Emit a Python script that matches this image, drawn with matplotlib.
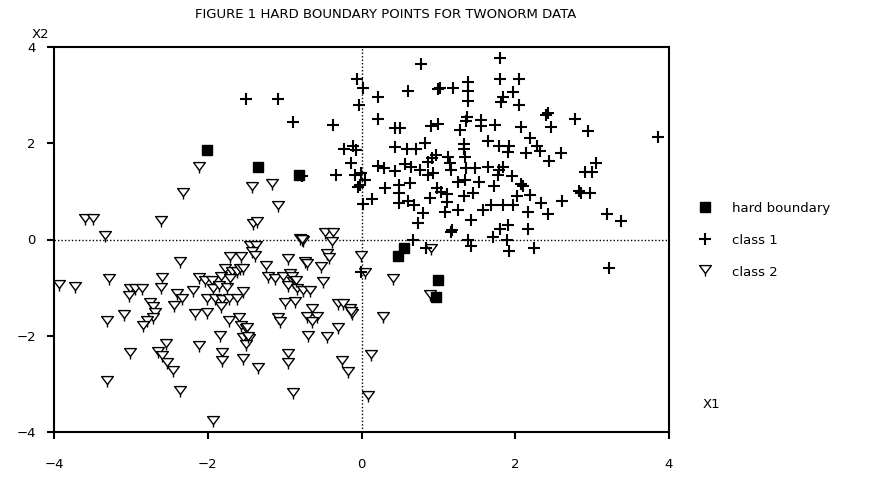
import matplotlib
matplotlib.use("Agg")
import matplotlib.pyplot as plt
from matplotlib.path import Path
from matplotlib.lines import Line2D

# twonorm data
class1_x = [1.80, 0.77, -0.06, 0.02, 1.80, 2.05, 1.39, 1.39, 1.39, 0.61, 1.00, 1.02,
            1.19, 0.22, 1.97, 1.84, 1.82, 2.05, -0.03, 2.40, 2.43, 2.78, 2.94, 3.86,
            0.22, 0.44, 0.50, 0.90, 1.00, 1.28, 1.37, 1.36, 1.55, 1.55, 1.74, 2.08,
            2.46, -0.23, -0.11, -0.07, -0.14, -0.09, -0.01, 0.05, -0.02, -0.05, 0.02, 0.14,
            0.31, 0.22, 0.29, 0.44, 0.44, 0.59, 0.71, 0.83, 0.57, 0.64, 0.76, 0.86,
            0.92, 0.97, 0.87, 0.93, 0.63, 0.49, 0.49, 0.49, 0.61, 0.68, 0.80, 0.73,
            0.89, 0.98, 1.03, 1.13, 1.15, 1.17, 1.11, 1.11, 1.09, 1.26, 1.18, 1.16,
            1.33, 1.33, 1.35, 1.36, 1.48, 1.26, 1.35, 1.53, 1.33, 1.45, 1.43, 1.64,
            1.79, 1.92, 1.90, 1.64, 1.79, 1.84, 1.77, 1.72, 1.96, 2.08, 2.10, 1.58,
            1.69, 1.84, 1.97, 2.02, 2.19, 2.17, 1.80, 1.91, 2.17, 1.71, 2.19, 2.28,
            2.32, 2.14, 2.44, 2.60, 2.33, 2.42, 2.61, 2.83, 2.86, 2.97, 2.91, 3.00,
            3.05, 3.19, 3.38, 0.67, 0.84, 1.39, 1.42, 1.89, 1.92, 2.25, 3.22, -1.50,
            -1.09, -0.89, -0.37, -0.33, -0.78, -0.01]
class1_y = [3.77, 3.64, 3.33, 3.14, 3.33, 3.33, 3.28, 3.09, 2.88, 3.09, 3.12, 3.15,
            3.14, 2.97, 3.07, 2.97, 2.86, 2.80, 2.80, 2.59, 2.63, 2.50, 2.26, 2.12,
            2.50, 2.31, 2.31, 2.36, 2.40, 2.27, 2.54, 2.47, 2.48, 2.36, 2.38, 2.34,
            2.34, 1.88, 1.94, 1.86, 1.60, 1.34, 1.38, 1.24, 1.13, 1.09, 0.73, 0.84,
            1.06, 1.53, 1.48, 1.42, 1.92, 1.88, 1.88, 2.00, 1.56, 1.50, 1.44, 1.61,
            1.69, 1.76, 1.35, 1.38, 1.17, 1.13, 0.96, 0.75, 0.79, 0.71, 0.55, 0.35,
            0.86, 1.08, 0.98, 1.72, 1.60, 1.44, 0.95, 0.77, 0.58, 0.61, 0.20, 0.16,
            1.99, 1.89, 1.72, 1.48, 1.48, 1.20, 1.24, 1.20, 0.91, 0.97, 0.41, 2.05,
            1.95, 1.95, 1.81, 1.51, 1.44, 1.51, 1.34, 1.12, 1.31, 1.16, 1.11, 0.62,
            0.71, 0.72, 0.72, 0.90, 0.93, 0.58, 0.21, 0.31, 0.21, 0.06, 2.10, 1.95,
            1.84, 1.80, 1.64, 1.80, 0.76, 0.54, 0.79, 1.01, 0.97, 0.97, 1.41, 1.41,
            1.60, 0.54, 0.39, 0.00, -0.18, 0.00, -0.14, -0.01, -0.23, -0.17, -0.59, 2.92,
            2.92, 2.44, 2.38, 1.33, 1.31, -0.68]

class2_x = [-2.11, -2.32, -1.43, -1.17, -1.09, -3.60, -3.49, -3.34, -2.61, -1.41, -1.36, -1.45,
            -1.37, -0.76, -0.80, -0.47, -0.37, -0.39, -1.43, -1.38, -1.71, -1.57, -2.36, -1.24,
            -0.95, -0.73, -0.71, -0.53, -0.45, -0.42, -0.01, 0.05, 0.41, -3.93, -3.73, -3.29,
            -3.01, -2.94, -2.86, -3.02, -2.60, -2.61, -2.40, -2.34, -2.44, -2.19, -2.11, -2.04,
            -1.94, -1.83, -1.93, -1.86, -1.75, -1.78, -1.69, -1.71, -1.62, -1.58, -1.54, -2.01,
            -1.91, -1.81, -1.72, -1.62, -1.54, -1.83, -2.17, -2.01, -1.73, -1.59, -1.57, -1.50,
            -1.54, -1.46, -1.50, -1.84, -1.22, -1.12, -1.02, -0.93, -0.89, -0.95, -0.84, -0.76,
            -0.67, -0.99, -0.86, -0.50, -1.09, -1.06, -0.71, -0.64, -0.58, -0.65, -0.31, -0.15,
            -0.13, -0.24, -0.31, -0.70, -0.45, -3.31, -3.09, -2.75, -2.71, -2.68, -2.71, -2.79,
            -2.84, -3.01, -2.65, -2.60, -2.54, -2.53, -2.45, -3.31, -2.36, -2.12, -1.81, -1.82,
            -1.54, -1.34, -0.95, -0.95, -0.89, -1.93, -0.25, -0.17, 0.12, 0.08, 0.28, 0.91,
            0.89, -0.91, -0.85, -1.49, -0.14, -0.78, -1.47]
class2_y = [1.48, 0.94, 1.06, 1.13, 0.68, 0.41, 0.41, 0.06, 0.37, 0.30, 0.35, -0.15,
            -0.16, -0.05, -0.01, 0.11, 0.11, -0.08, -0.28, -0.36, -0.38, -0.39, -0.49, -0.57,
            -0.43, -0.48, -0.54, -0.60, -0.32, -0.41, -0.36, -0.72, -0.84, -0.97, -1.01, -0.84,
            -1.05, -1.05, -1.05, -1.20, -0.83, -1.03, -1.15, -1.26, -1.40, -1.09, -0.83, -0.88,
            -0.89, -0.81, -1.05, -0.99, -1.02, -0.63, -0.70, -0.84, -0.70, -0.63, -0.63, -1.26,
            -1.25, -1.27, -1.26, -1.26, -1.12, -1.43, -1.57, -1.54, -1.71, -1.65, -1.81, -1.88,
            -2.07, -2.09, -2.21, -2.02, -0.81, -0.84, -0.81, -0.74, -0.91, -0.98, -1.05, -1.09,
            -1.09, -1.34, -1.31, -0.91, -1.65, -1.74, -1.64, -1.47, -1.64, -1.74, -1.36, -1.47,
            -1.57, -1.36, -1.85, -2.02, -2.05, -1.72, -1.59, -1.33, -1.43, -1.55, -1.65, -1.71,
            -1.82, -2.37, -2.35, -2.44, -2.19, -2.58, -2.75, -2.96, -3.16, -2.23, -2.37, -2.55,
            -2.50, -2.69, -2.40, -2.59, -3.21, -3.79, -2.55, -2.78, -2.43, -3.27, -1.64, -0.22,
            -1.17, -0.80, -0.88, -1.85, -1.52, -0.03, -2.05]

hard_x = [-2.01, -1.34, -0.81, 0.55, 0.48, 1.00, 0.97]
hard_y = [1.86, 1.51, 1.33, -0.18, -0.34, -0.84, -1.20]

# down triangle with a little stem, like the old Mac marker
tri_path = Path([(-1, 1), (1, 1), (0, -0.35), (-1, 1), (0, -0.35), (0, -0.85)],
                [Path.MOVETO, Path.LINETO, Path.LINETO, Path.CLOSEPOLY,
                 Path.MOVETO, Path.LINETO])

fig = plt.figure(figsize=(8.72, 4.79), dpi=100)
ax = fig.add_axes([54 / 872, 1 - 432 / 479, 615 / 872, 385 / 479])

ax.axhline(0, color="black", linestyle=(0, (1, 1.5)), linewidth=1, zorder=1)
ax.axvline(0, color="black", linestyle=(0, (1, 1.5)), linewidth=1, zorder=1)

ax.plot(class2_x, class2_y, linestyle="none", marker=tri_path, markersize=8.5,
        markerfacecolor="white", markeredgecolor="black", markeredgewidth=1.0, zorder=2)
ax.plot(class1_x, class1_y, linestyle="none", marker="+", markersize=8,
        color="black", markeredgewidth=1.5, zorder=3)
ax.plot(hard_x, hard_y, linestyle="none", marker="s", markersize=6.5,
        color="black", zorder=4)

ax.set_xlim(-4, 4)
ax.set_ylim(-4, 4)
ax.set_xticks([-4, -2, 0, 2, 4])
ax.set_yticks([-4, -2, 0, 2, 4])
ax.tick_params(direction="out", length=5, width=1.5, labelsize=9.5)
ax.tick_params(axis="x", pad=14)
ax.tick_params(axis="y", pad=8)
for s in ax.spines.values():
    s.set_linewidth(1.5)

fig.text(386 / 872, 1 - 15 / 479, "FIGURE 1 HARD BOUNDARY POINTS FOR TWONORM DATA",
         ha="center", va="center", fontsize=9.5)
fig.text(40 / 872, 1 - 34 / 479, "X2", ha="center", va="center", fontsize=9.5)
fig.text(703 / 872, 1 - 404 / 479, "X1", ha="left", va="center", fontsize=9.5)

handles = [
    Line2D([], [], linestyle="none", marker="s", markersize=6.5, color="black"),
    Line2D([], [], linestyle="none", marker="+", markersize=8, color="black",
           markeredgewidth=1.5),
    Line2D([], [], linestyle="none", marker=tri_path, markersize=8.5,
           markerfacecolor="white", markeredgecolor="black", markeredgewidth=1.0),
]
fig.legend(handles, ["hard boundary", "class 1", "class 2"], loc="upper left",
           bbox_to_anchor=(690 / 872, 1 - 195 / 479), frameon=False, fontsize=9.5,
           handlelength=1.2, handletextpad=1.5, labelspacing=1.45, borderpad=0)

fig.savefig("out.png", dpi=100)
